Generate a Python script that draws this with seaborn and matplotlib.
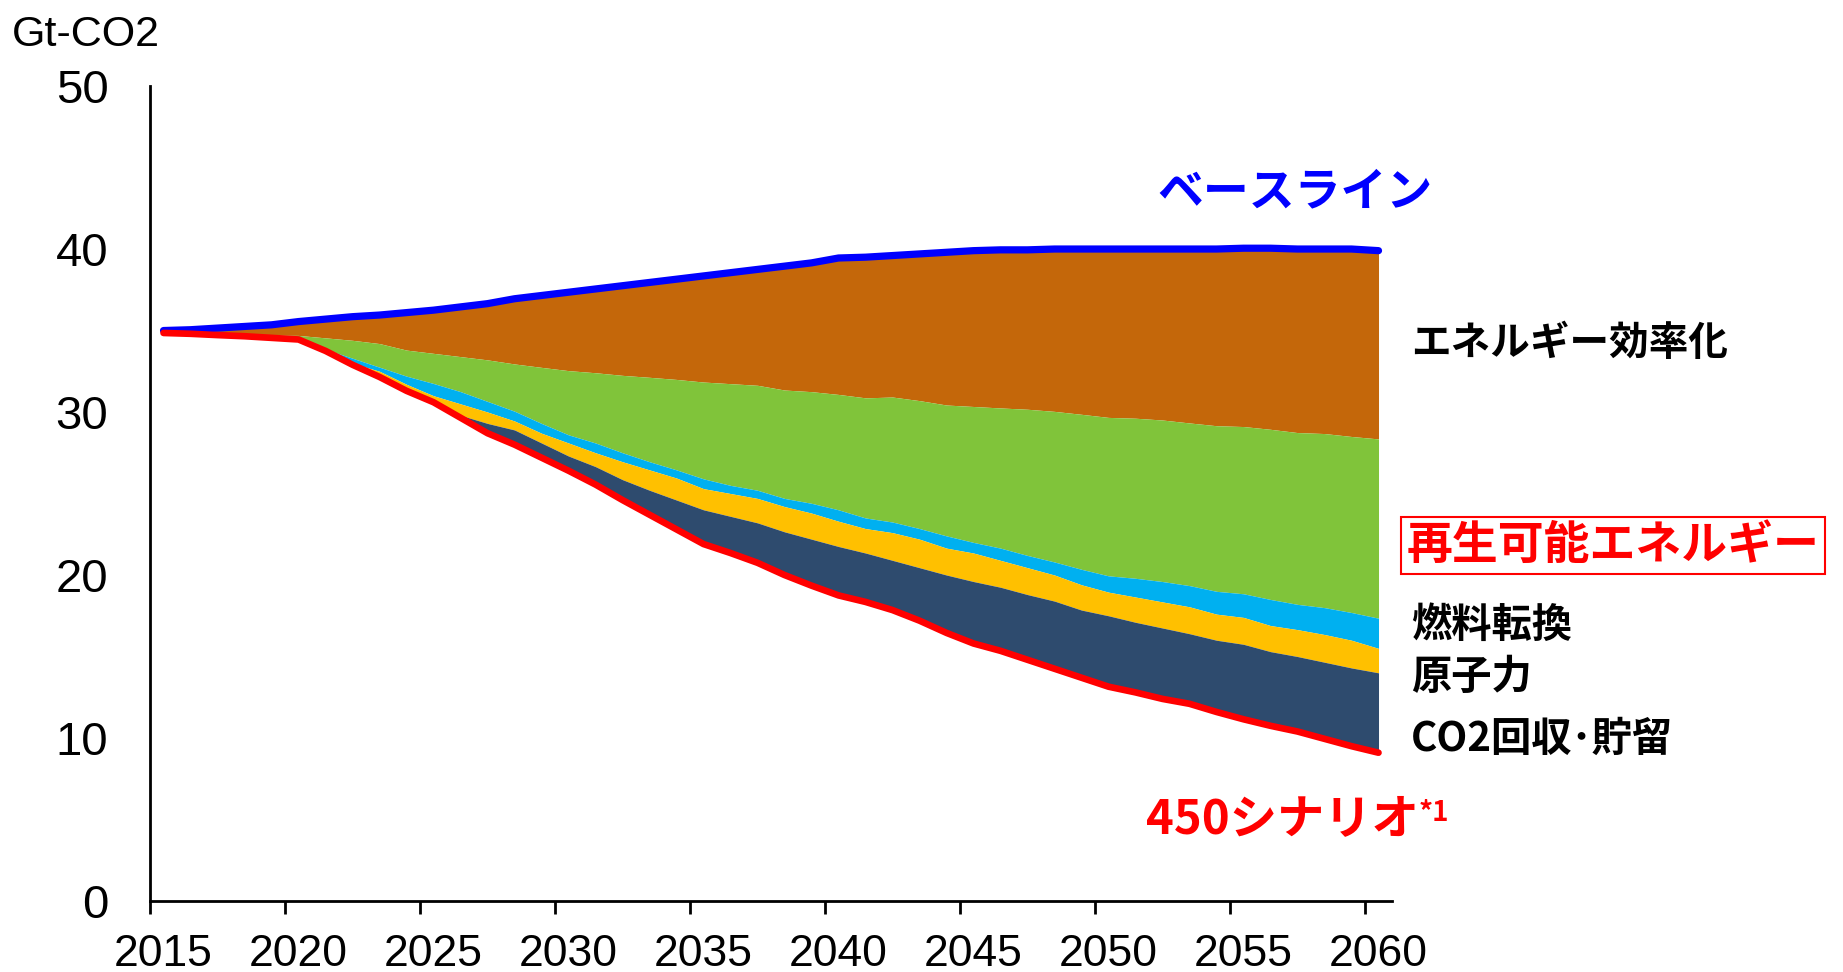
import numpy as np
import pandas as pd
import matplotlib
matplotlib.use("Agg")
import matplotlib.pyplot as plt
import seaborn as sns

# --- data (Gt-CO2), one value per year 2015-2060 ---
years = list(range(2015, 2061))

# baseline (blue line, top of the stack)
baseline = [35.0, 35.05, 35.15, 35.25, 35.35, 35.55, 35.7, 35.85, 35.95, 36.1,
            36.25, 36.45, 36.65, 36.95, 37.15, 37.35, 37.55, 37.75, 37.95, 38.15,
            38.35, 38.55, 38.75, 38.95, 39.15, 39.45, 39.5, 39.6, 39.7, 39.8,
            39.9, 39.95, 39.95, 40.0, 40.0, 40.0, 40.0, 40.0, 40.0, 40.0,
            40.05, 40.05, 40.0, 40.0, 40.0, 39.9]
# upper edge of the renewables wedge (efficiency wedge sits above it)
renew_top = [34.85, 34.82, 34.78, 34.75, 34.72, 34.7, 34.55, 34.4, 34.2, 33.8,
             33.6, 33.4, 33.2, 32.95, 32.74, 32.54, 32.41, 32.25, 32.13, 32.0,
             31.84, 31.74, 31.64, 31.35, 31.25, 31.08, 30.87, 30.92, 30.7, 30.43,
             30.34, 30.25, 30.17, 30.04, 29.86, 29.67, 29.62, 29.51, 29.33, 29.16,
             29.11, 28.94, 28.74, 28.68, 28.5, 28.35]
# upper edge of the fuel-switch wedge
fuel_top = [34.85, 34.8, 34.72, 34.65, 34.57, 34.5, 33.85, 33.3, 32.75, 32.2,
            31.75, 31.25, 30.65, 30.05, 29.3, 28.6, 28.1, 27.5, 26.95, 26.45,
            25.9, 25.5, 25.2, 24.7, 24.4, 24.0, 23.5, 23.25, 22.85, 22.4,
            22.0, 21.65, 21.2, 20.8, 20.35, 19.95, 19.8, 19.6, 19.35, 19.0,
            18.85, 18.5, 18.2, 18.0, 17.7, 17.35]
# upper edge of the nuclear wedge
nuclear_top = [34.85, 34.8, 34.72, 34.65, 34.57, 34.5, 33.8, 33.0, 32.5, 31.7,
               31.0, 30.5, 30.0, 29.45, 28.7, 28.1, 27.5, 26.95, 26.45, 25.95,
               25.3, 25.0, 24.7, 24.2, 23.8, 23.3, 22.85, 22.6, 22.2, 21.65,
               21.35, 20.9, 20.45, 20.0, 19.4, 18.95, 18.65, 18.35, 18.05, 17.6,
               17.4, 16.9, 16.65, 16.35, 16.0, 15.5]
# upper edge of the CCS wedge
ccs_top = [34.85, 34.8, 34.72, 34.65, 34.57, 34.5, 33.78, 32.95, 32.2, 31.4,
           30.7, 29.8, 29.3, 28.9, 28.1, 27.3, 26.65, 25.85, 25.2, 24.6,
           24.0, 23.6, 23.2, 22.65, 22.2, 21.75, 21.35, 20.9, 20.45, 20.0,
           19.6, 19.25, 18.8, 18.4, 17.85, 17.5, 17.1, 16.75, 16.4, 16.0,
           15.75, 15.3, 15.0, 14.65, 14.3, 14.0]
# 450 scenario (red line, bottom of the stack)
scenario450 = [34.85, 34.8, 34.72, 34.65, 34.55, 34.45, 33.75, 32.9, 32.15, 31.3,
               30.6, 29.65, 28.7, 28.0, 27.2, 26.4, 25.55, 24.6, 23.7, 22.8,
               21.9, 21.35, 20.75, 20.0, 19.35, 18.75, 18.35, 17.85, 17.2, 16.45,
               15.8, 15.35, 14.8, 14.25, 13.7, 13.15, 12.8, 12.4, 12.1, 11.6,
               11.15, 10.75, 10.4, 9.95, 9.5, 9.1]

df = pd.DataFrame({"year": years, "baseline": baseline, "renew_top": renew_top,
                   "fuel_top": fuel_top, "nuclear_top": nuclear_top,
                   "ccs_top": ccs_top, "s450": scenario450})

sns.set_theme(style="white")
plt.rcParams["font.family"] = ["Liberation Sans", "DejaVu Sans"]
plt.rcParams["text.color"] = "black"
plt.rcParams["xtick.color"] = "black"
plt.rcParams["ytick.color"] = "black"
jp = ["Noto Sans CJK JP", "DejaVu Sans"]

fig = plt.figure(figsize=(18.43, 9.72), dpi=100)
ax = fig.add_axes([0.0814, 0.0730, 0.6739, 0.8385])

# stacked wedges, top to bottom
bands = [("baseline", "renew_top", "#C4670A"),
         ("renew_top", "fuel_top", "#80C43A"),
         ("fuel_top", "nuclear_top", "#00B0F0"),
         ("nuclear_top", "ccs_top", "#FFC000"),
         ("ccs_top", "s450", "#2E4B6E")]
for hi, lo, c in bands:
    ax.fill_between(df["year"], df[lo], df[hi], color=c, linewidth=0, zorder=1)

sns.lineplot(data=df, x="year", y="baseline", color="#0000FF", linewidth=5.2,
             solid_capstyle="round", ax=ax, zorder=3)
sns.lineplot(data=df, x="year", y="s450", color="#FF0000", linewidth=4.8,
             solid_capstyle="round", ax=ax, zorder=3)

ax.set_xlim(2014.5, 2060.5)
ax.set_ylim(0, 50)
ax.set_xlabel("")
ax.set_ylabel("")

# labels at category centres, tick marks on category boundaries
ax.set_xticks(list(range(2015, 2061, 5)))
ax.set_xticklabels([str(y) for y in range(2015, 2061, 5)])
ax.set_xticks([2014.5 + 5 * k for k in range(10)], minor=True)
ax.tick_params(axis="x", which="major", length=0, pad=24, labelsize=32,
               labelcolor="black")
ax.tick_params(axis="x", which="minor", length=9, width=2, color="black",
               direction="out", bottom=True)
ax.set_yticks([0, 10, 20, 30, 40, 50])
ax.tick_params(axis="y", length=0, pad=30, labelsize=34, labelcolor="black")

sns.despine(ax=ax)
for s in ["left", "bottom"]:
    ax.spines[s].set_color("black")
    ax.spines[s].set_linewidth(2)

fig.text(0.0065, 0.985, "Gt-CO2", fontsize=31, va="top", ha="left",
         color="black")

ax.text(2056.9, 43.5, "ベースライン", color="#0000FF", fontsize=33,
        fontweight="bold", family=jp, ha="center", va="center", clip_on=False)
ax.text(2061.2, 34.2, "エネルギー効率化", color="black", fontsize=28.5,
        fontweight="bold", family=jp, ha="left", va="center", clip_on=False)
ax.text(2061.05, 21.8, "再生可能エネルギー", color="#FF0000", fontsize=33,
        fontweight="bold", family=jp, ha="left", va="center", clip_on=False,
        bbox=dict(boxstyle="square,pad=0.12", facecolor="white",
                  edgecolor="#FF0000", linewidth=1.5))
ax.text(2061.2, 16.9, "燃料転換", color="black", fontsize=29,
        fontweight="bold", family=jp, ha="left", va="center", clip_on=False)
ax.text(2061.2, 13.7, "原子力", color="black", fontsize=29,
        fontweight="bold", family=jp, ha="left", va="center", clip_on=False)
ax.text(2061.2, 9.9, "CO2回収･貯留", color="black", fontsize=29,
        fontweight="bold", family=jp, ha="left", va="center", clip_on=False)
t450 = ax.text(2051.4, 5.0, "450シナリオ", color="#FF0000", fontsize=34,
               fontweight="bold", family=jp, ha="left", va="center", clip_on=False)
ax.annotate("*1", xy=(1.0, 0.92), xycoords=t450, color="#FF0000", fontsize=20,
            fontweight="bold", family=jp, ha="left", va="top")

fig.savefig("out.png", dpi=100, facecolor="white")
